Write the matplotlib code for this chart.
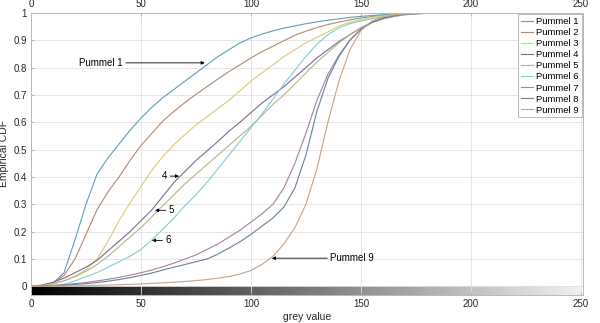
import numpy as np
import matplotlib
matplotlib.use("Agg")
import matplotlib.pyplot as plt

plt.rcParams['font.family'] = ['Liberation Sans', 'DejaVu Sans']

grey = [0, 5, 10, 15, 20, 25, 30, 35, 40, 45, 50, 55, 60, 65, 70, 75, 80, 85, 90, 95,
        100, 105, 110, 115, 120, 125, 130, 135, 140, 145, 150, 155, 160, 165, 170, 175,
        180, 185, 190, 195, 200, 250]

p1 = [0, 0.002, 0.012, 0.05, 0.17, 0.30, 0.41, 0.47, 0.52, 0.57, 0.615, 0.655, 0.69, 0.72,
      0.75, 0.78, 0.81, 0.84, 0.865, 0.89, 0.908, 0.922, 0.934, 0.944, 0.952, 0.96, 0.967,
      0.973, 0.978, 0.983, 0.987, 0.99, 0.993, 0.995, 0.997, 0.998, 0.999, 1, 1, 1, 1, 1]
p2 = [0, 0.003, 0.012, 0.04, 0.10, 0.19, 0.28, 0.345, 0.40, 0.46, 0.515, 0.56, 0.605, 0.64,
      0.672, 0.702, 0.73, 0.758, 0.785, 0.81, 0.835, 0.858, 0.878, 0.898, 0.918, 0.933, 0.946,
      0.957, 0.966, 0.974, 0.981, 0.986, 0.99, 0.993, 0.995, 0.997, 0.998, 0.999, 1, 1, 1, 1]
p3 = [0, 0.002, 0.008, 0.02, 0.038, 0.06, 0.1, 0.165, 0.24, 0.305, 0.365, 0.425, 0.475, 0.518,
      0.555, 0.59, 0.62, 0.65, 0.68, 0.715, 0.75, 0.78, 0.81, 0.84, 0.865, 0.89, 0.91, 0.93,
      0.952, 0.965, 0.975, 0.983, 0.989, 0.993, 0.996, 0.998, 0.999, 1, 1, 1, 1, 1]
p4 = [0, 0.005, 0.015, 0.03, 0.05, 0.07, 0.095, 0.13, 0.165, 0.2, 0.24, 0.28, 0.33, 0.38,
      0.42, 0.46, 0.495, 0.53, 0.567, 0.6, 0.635, 0.67, 0.7, 0.73, 0.765, 0.8, 0.835, 0.865,
      0.895, 0.92, 0.945, 0.965, 0.978, 0.987, 0.993, 0.996, 0.998, 0.999, 1, 1, 1, 1]
p5 = [0, 0.003, 0.01, 0.02, 0.035, 0.055, 0.08, 0.11, 0.145, 0.18, 0.215, 0.255, 0.295, 0.335,
      0.375, 0.41, 0.445, 0.48, 0.515, 0.55, 0.585, 0.625, 0.665, 0.7, 0.74, 0.78, 0.82, 0.855,
      0.89, 0.92, 0.945, 0.965, 0.978, 0.987, 0.993, 0.996, 0.998, 0.999, 1, 1, 1, 1]
p6 = [0, 0.001, 0.003, 0.008, 0.02, 0.035, 0.05, 0.07, 0.09, 0.11, 0.135, 0.17, 0.21, 0.25,
      0.295, 0.335, 0.38, 0.43, 0.48, 0.53, 0.58, 0.63, 0.685, 0.74, 0.79, 0.84, 0.885, 0.92,
      0.945, 0.96, 0.97, 0.978, 0.985, 0.99, 0.994, 0.997, 0.999, 1, 1, 1, 1, 1]
p7 = [0, 0.001, 0.003, 0.006, 0.01, 0.014, 0.02, 0.026, 0.033, 0.041, 0.05, 0.06, 0.072, 0.085,
      0.1, 0.115, 0.135, 0.155, 0.18, 0.205, 0.235, 0.265, 0.3, 0.36, 0.45, 0.56, 0.68, 0.775,
      0.845, 0.9, 0.94, 0.965, 0.98, 0.989, 0.995, 0.998, 1, 1, 1, 1, 1, 1]
p8 = [0, 0.0005, 0.002, 0.004, 0.007, 0.01, 0.014, 0.019, 0.025, 0.032, 0.04, 0.049, 0.06, 0.07,
      0.08, 0.09, 0.1, 0.118, 0.14, 0.163, 0.19, 0.22, 0.25, 0.29, 0.36, 0.48, 0.64, 0.76,
      0.84, 0.9, 0.94, 0.965, 0.98, 0.989, 0.995, 0.998, 1, 1, 1, 1, 1, 1]
p9 = [0, 0.0005, 0.001, 0.0015, 0.002, 0.003, 0.004, 0.005, 0.006, 0.0075, 0.009, 0.011, 0.013,
      0.0155, 0.018, 0.021, 0.025, 0.03, 0.036, 0.045, 0.058, 0.08, 0.11, 0.155, 0.215, 0.3,
      0.43, 0.6, 0.75, 0.865, 0.935, 0.97, 0.985, 0.992, 0.996, 0.998, 1, 1, 1, 1, 1, 1]

series = [p1, p2, p3, p4, p5, p6, p7, p8, p9]
labels = ['Pummel %d' % i for i in range(1, 10)]
colors = ['#5f9fb8', '#b08a72', '#d9cb78', '#7f6a92', '#b5b488', '#86ccd4',
          '#a8809a', '#6a7f98', '#c4a486']

xticks = [0, 50, 100, 150, 200, 250]
yticks = [0, 0.1, 0.2, 0.3, 0.4, 0.5, 0.6, 0.7, 0.8, 0.9, 1]
ytick_labels = ['0', '0.1', '0.2', '0.3', '0.4', '0.5', '0.6', '0.7', '0.8', '0.9', '1']

fig = plt.figure(figsize=(6, 3.23), dpi=100)
ax = fig.add_axes([0.0517, 0.088, 0.92, 0.8724])

# grey-value colour bar drawn inside the axes below y = 0
grad = np.linspace(0, 1, 256)[np.newaxis, :]
ax.imshow(grad, cmap='gray', aspect='auto', extent=[0, 250, -0.03, 0], zorder=0,
          vmin=0, vmax=1.06)

for ys, lab, c in zip(series, labels, colors):
    ax.plot(grey, ys, color=c, lw=0.8, label=lab, zorder=2)

ax.set_xlim(0, 251)
ax.set_ylim(-0.03, 1)
ax.set_xticks(xticks)
ax.set_yticks(yticks)
ax.set_yticklabels(ytick_labels)
ax.set_axisbelow(True)
ax.grid(True, color='#e2e2e2', lw=0.6)
ax.tick_params(axis='both', direction='in', length=2.5, width=0.5, color='#a0a0a0',
               labelsize=7, labelcolor='#262626', pad=3)
ax.tick_params(axis='x', top=True, labeltop=True)
for s in ax.spines.values():
    s.set_color('#b8b8b8')
    s.set_linewidth(0.7)

ax.set_xlabel('grey value', fontsize=7.5, color='#262626', labelpad=2)
ax.set_ylabel('Empirical CDF', fontsize=7.5, color='#262626')
ax.yaxis.set_label_coords(-0.039, 0.5)

arrow = dict(arrowstyle='-|>', color='black', lw=0.6, mutation_scale=5,
             shrinkA=0, shrinkB=0)
ax.annotate('Pummel 1', xy=(79, 0.817), xytext=(22, 0.817), fontsize=7,
            va='center', ha='left', arrowprops=arrow)
ax.annotate('4', xy=(67.3, 0.403), xytext=(59.5, 0.403), fontsize=7,
            va='center', ha='left', arrowprops=arrow)
ax.annotate('5', xy=(56.4, 0.278), xytext=(62.5, 0.278), fontsize=7,
            va='center', ha='left', arrowprops=arrow)
ax.annotate('6', xy=(55, 0.168), xytext=(61, 0.168), fontsize=7,
            va='center', ha='left', arrowprops=arrow)
ax.annotate('Pummel 9', xy=(109.5, 0.103), xytext=(136, 0.103), fontsize=7,
            va='center', ha='left', arrowprops=arrow)

leg = ax.legend(loc='upper right', fontsize=6.8, frameon=True, fancybox=False,
                framealpha=1, edgecolor='#b0b0b0', handlelength=1.3,
                handletextpad=0.3, labelspacing=0.22, borderpad=0.3,
                borderaxespad=0.15)
leg.get_frame().set_linewidth(0.6)

fig.savefig('out.png', dpi=100)
